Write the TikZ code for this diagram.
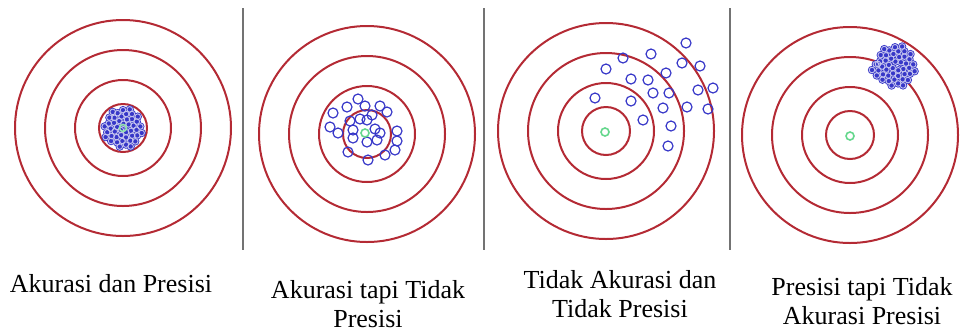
\documentclass[tikz,border=0pt]{standalone}
\usepackage{fontspec}
\setmainfont{Liberation Serif}
\usetikzlibrary{positioning}
\definecolor{ring}{RGB}{180,42,52}
\definecolor{shot}{RGB}{55,55,200}
\definecolor{bull}{RGB}{100,215,140}
\definecolor{rule}{RGB}{115,115,115}
\tikzset{
  ringline/.style={ring,line width=1pt},
  hit/.style={shot,line width=0.6pt},
  tighthit/.style={draw=shot!30,line width=0.45pt},
  lbl/.style={font=\fontsize{13}{14.3}\selectfont,align=center,inner sep=0pt},
}
\newcommand{\target}[2]{%
  \foreach \r in {24,48,78,108} \draw[ringline] (#1,#2) circle (\r);
}

\begin{document}
\begin{tikzpicture}[x=0.5pt,y=-0.5pt]
  \useasboundingbox (0,0) rectangle (962,333);
  % four targets
  \target{123}{128}
  \target{367}{134}
  \target{606}{131}
  \target{850}{135}
  % separators
  \draw[rule,line width=1pt] (243,8) -- (243,250);
  \draw[rule,line width=1pt] (484,8) -- (484,250);
  \draw[rule,line width=1pt] (730,8) -- (730,250);
  % accurate and precise
  \begin{scope}[shift={(123,128)}]
    \foreach \i in {1,...,45} {
      \pgfmathsetmacro\rr{20*sqrt(\i/45)}
      \fill[shot] (\i*137.5:\rr) circle (4.2);
    }
    \foreach \i in {1,...,45} {
      \pgfmathsetmacro\rr{20*sqrt(\i/45)}
      \draw[tighthit] (\i*137.5:\rr) circle (2.8);
    }
    \draw[bull!70!white,line width=0.8pt] (0,0) circle (3.5);
  \end{scope}
  % accurate, not precise
  \foreach \px/\py in {358/99,347/107,365/106,380/106,387/112,333/113,372/115,360/119,
      350/121,367/120,330/127,338/133,353/130,375/129,380/133,397/131,353/138,367/142,
      377/140,397/141,348/152,368/160,385/155,395/150}
    \draw[hit] (\px,\py) circle (5);
  \draw[bull,line width=0.8pt] (365,133) circle (4);
  % neither
  \foreach \px/\py in {686/43,651/54,623/58,606/69,682/63,700/66,666/73,631/79,648/80,
      653/93,669/93,698/90,713/88,595/98,631/101,663/108,687/107,708/109,643/120,
      671/126,668/146}
    \draw[hit] (\px,\py) circle (5);
  \draw[bull,line width=0.8pt] (605,132) circle (4);
  % precise, not accurate
  \begin{scope}[shift={(895,66)}]
    \foreach \i in {1,...,45} {
      \pgfmathsetmacro\rr{21*sqrt(\i/45)}
      \fill[shot] (\i*137.5:\rr) circle (4.2);
    }
    \fill[shot] (-23,4) circle (4.2);
    \fill[shot] (-17,-2) circle (4.2);
    \foreach \i in {1,...,45} {
      \pgfmathsetmacro\rr{21*sqrt(\i/45)}
      \draw[tighthit] (\i*137.5:\rr) circle (2.8);
    }
    \draw[tighthit] (-23,4) circle (2.8);
    \draw[tighthit] (-17,-2) circle (2.8);
  \end{scope}
  \draw[bull,line width=0.8pt] (850,136) circle (4);
  % captions
  \node[lbl,anchor=base] (capA) at (111,292) {Akurasi dan Presisi};
  \node[lbl,anchor=north] (capB) at (368,280) {Akurasi tapi Tidak\\Presisi};
  \node[lbl,anchor=north] (capC) at (620,270) {Tidak Akurasi dan\\Tidak Presisi};
  \node[lbl,anchor=north] (capD) at (862,277) {Presisi tapi Tidak\\Akurasi Presisi};
\end{tikzpicture}
\end{document}
